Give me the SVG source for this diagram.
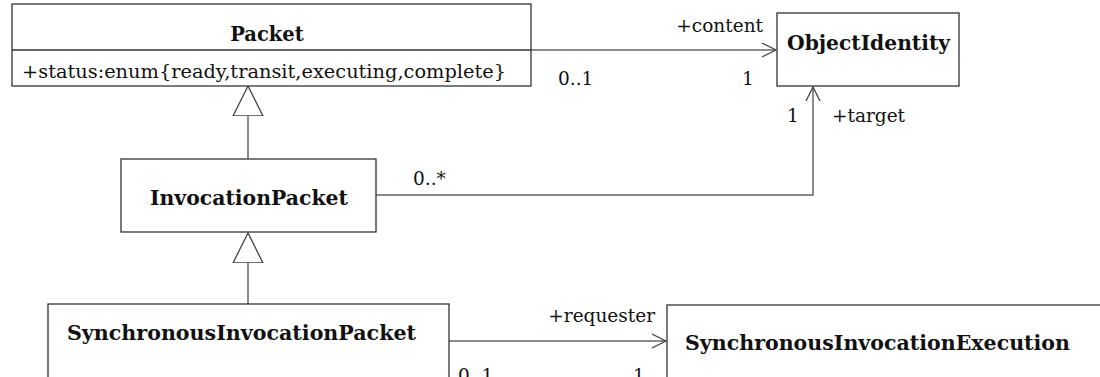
<svg xmlns="http://www.w3.org/2000/svg" width="1100" height="377" viewBox="0 0 1100 377">
<style>
.box{fill:#fff;stroke:#333;stroke-width:1.3}
.ln{fill:none;stroke:#666;stroke-width:1.5}
.title{font-family:"DejaVu Serif","Liberation Serif",serif;font-weight:bold;font-size:19.5px;fill:#111}
.lbl{font-family:"DejaVu Serif","Liberation Serif",serif;font-size:18.5px;fill:#111}
</style>
<defs>
<marker id="open" markerUnits="userSpaceOnUse" markerWidth="16" markerHeight="16" refX="14" refY="7" orient="auto" viewBox="0 0 16 14">
<path d="M0,0 L14,7 L0,14" fill="none" stroke="#444" stroke-width="1.3"/>
</marker>
<marker id="gen" markerUnits="userSpaceOnUse" markerWidth="32" markerHeight="32" refX="30" refY="15" orient="auto" viewBox="0 0 32 30">
<path d="M30,15 L0,0 L0,30 Z" fill="#fff" stroke="#444" stroke-width="1.3"/>
</marker>
</defs>
<rect width="1100" height="377" fill="#fff"/>
<g id="connectors">
<line class="ln" x1="531" y1="50" x2="776" y2="50" marker-end="url(#open)"/>
<polyline class="ln" points="376,195 813,195 813,87" marker-end="url(#open)"/>
<line class="ln" x1="449" y1="341" x2="666" y2="341" marker-end="url(#open)"/>
<line class="ln" x1="248" y1="159" x2="248" y2="86" marker-end="url(#gen)"/>
<line class="ln" x1="248" y1="304" x2="248" y2="233" marker-end="url(#gen)"/>
<text class="lbl" x="763" y="32" text-anchor="end">+content</text>
<text class="lbl" x="558" y="85">0..1</text>
<text class="lbl" x="742" y="85">1</text>
<text class="lbl" x="787" y="122">1</text>
<text class="lbl" x="832" y="122">+target</text>
<text class="lbl" x="413" y="185">0..*</text>
<text class="lbl" x="655" y="322" text-anchor="end">+requester</text>
<text class="lbl" x="458" y="382">0..1</text>
<text class="lbl" x="633" y="382">1</text>
</g>
<g id="Packet">
<rect class="box" x="12" y="4" width="519" height="82"/>
<line x1="12" y1="50" x2="531" y2="50" stroke="#333" stroke-width="1.3"/>
<text class="title" x="267" y="41" text-anchor="middle">Packet</text>
<text class="lbl" x="22" y="78" textLength="484" lengthAdjust="spacingAndGlyphs">+status:enum{ready,transit,executing,complete}</text>
</g>
<g id="ObjectIdentity">
<rect class="box" x="777" y="13" width="182" height="73"/>
<text class="title" x="787" y="50" textLength="163" lengthAdjust="spacingAndGlyphs">ObjectIdentity</text>
</g>
<g id="InvocationPacket">
<rect class="box" x="121" y="159" width="255" height="73"/>
<text class="title" x="150" y="205" textLength="198" lengthAdjust="spacingAndGlyphs">InvocationPacket</text>
</g>
<g id="SynchronousInvocationPacket">
<rect class="box" x="48" y="304" width="401" height="100"/>
<text class="title" x="67" y="340" textLength="349" lengthAdjust="spacingAndGlyphs">SynchronousInvocationPacket</text>
</g>
<g id="SynchronousInvocationExecution">
<rect class="box" x="667" y="305" width="460" height="100"/>
<text class="title" x="685" y="350" textLength="385" lengthAdjust="spacingAndGlyphs">SynchronousInvocationExecution</text>
</g>
</svg>
